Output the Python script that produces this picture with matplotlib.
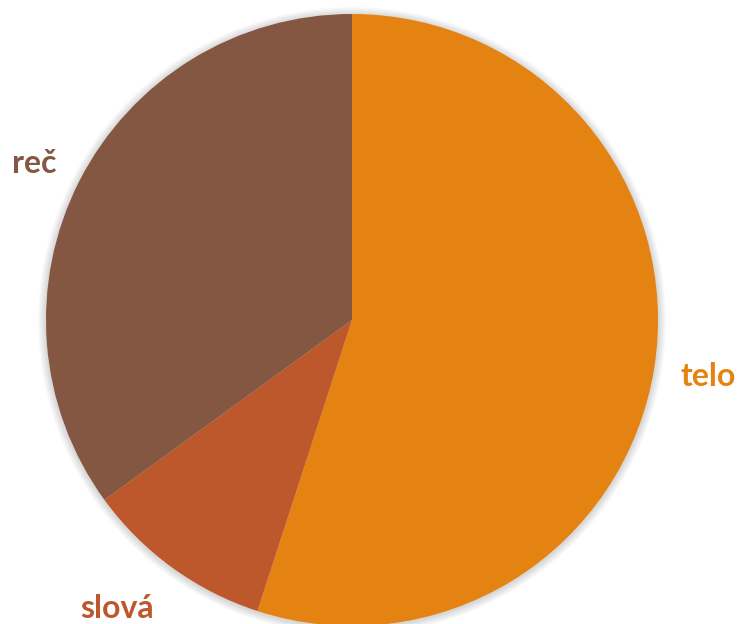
import matplotlib.pyplot as plt
from matplotlib.patches import Circle

labels = ['telo', 'slová', 'reč']
values = [55, 10, 35]
colors = ['#E48312', '#BD582C', '#845742']

fig = plt.figure(figsize=(7.4, 6.24), dpi=100)
ax = fig.add_axes([0, 0, 1, 1])

cx, cy, r = 352, 304, 306

# soft shadow round the pie
for k in range(1, 9):
    ax.add_patch(Circle((cx, cy - 1), r + k, color='black', alpha=0.018, lw=0, zorder=0))

wedges, texts = ax.pie(values, labels=labels, colors=colors, startangle=90,
                       counterclock=False, center=(cx, cy), radius=r,
                       labeldistance=1.18, frame=True,
                       textprops=dict(fontsize=23, fontweight='bold', family='Lato'))
# nudge labels a little to where excel put them
nudge = [(0, 0), (-23, 4), (4, -7)]
for w in wedges:
    w.set_zorder(2)
for t, c, (dx, dy) in zip(texts, colors, nudge):
    t.set_color(c)
    t.set_ha('center')
    t.set_va('center')
    x, y = t.get_position()
    t.set_position((x + dx, y + dy))

ax.set_xlim(0, 740)
ax.set_ylim(0, 624)
ax.set_aspect('equal')
ax.axis('off')

fig.savefig('out.png', dpi=100)
